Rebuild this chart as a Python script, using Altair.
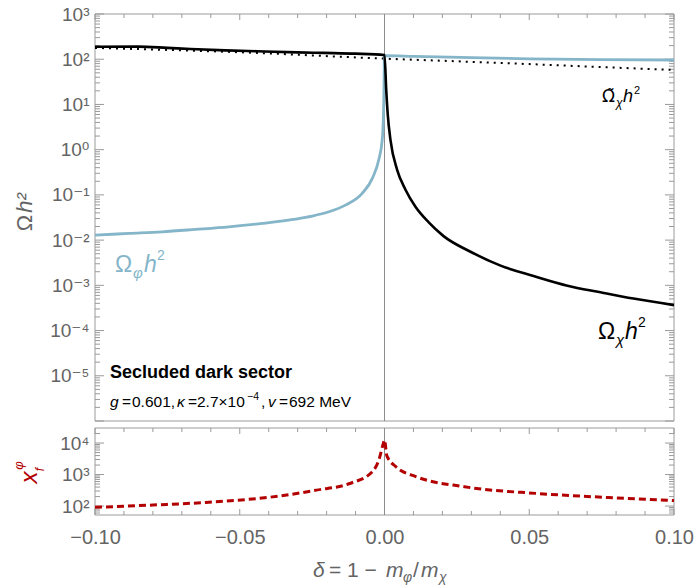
import altair as alt
import pandas as pd

FONT = "Liberation Sans, DejaVu Sans, sans-serif"
GRAY = "#646464"
FRAME = "#9a9a9a"
BLUE = "#84b5c9"
RED = "#b30000"

# ---- data ----
black_x = [-0.1, -0.085, -0.075, -0.067, -0.055, -0.044, -0.03, -0.021, -0.01, 0.0,
           0.0006, 0.00114, 0.00207, 0.00439, 0.00725, 0.0107, 0.0152, 0.0204, 0.0297,
           0.0401, 0.0515, 0.0632, 0.0746, 0.086, 0.1]
black_y = [188, 190, 178, 168, 157, 150, 142, 138, 133, 124,
           20.8, 5.8, 1.63, 0.354, 0.130, 0.0546, 0.0249, 0.01225, 0.00553,
           0.00273, 0.00161, 0.000984, 0.000703, 0.00051, 0.000365]

blue_x = [-0.1, -0.0883, -0.0768, -0.0653, -0.0538, -0.0422, -0.0307, -0.025, -0.0192,
          -0.0135, -0.0077, -0.0042, -0.002, -0.0008, -0.0006, -0.00024, 0.0,
          0.01, 0.03, 0.05, 0.075, 0.1]
blue_y = [0.0129, 0.01406, 0.01527, 0.01726, 0.01968, 0.02339, 0.02917, 0.034, 0.0423,
          0.0594, 0.108, 0.232, 0.589, 1.63, 2.33, 12.5, 120,
          116, 108, 102, 98, 96]

dot_x = [-0.1, -0.067, -0.044, -0.021, 0.0, 0.025, 0.05, 0.075, 0.1]
dot_y = [178, 155, 138, 118, 103, 90, 78, 67, 58]

red_x = [-0.1, -0.08, -0.0617, -0.036, -0.0235, -0.012, -0.0043, -0.0018, -0.0005,
         0.0, 0.0008, 0.004, 0.011, 0.0276, 0.053, 0.0786, 0.1]
red_y = [91, 108, 130, 210, 320, 520, 1200, 3200, 9000,
         12500, 4000, 1750, 850, 410, 250, 184, 150]

x_major = [-0.1, -0.05, 0.0, 0.05, 0.1]
x_minor = [round(-0.1 + 0.01 * i, 2) for i in range(21)]
x_minor = [v for v in x_minor if all(abs(v - m) > 1e-9 for m in x_major)]

top_major = [10.0 ** e for e in range(-6, 4)]
top_minor = [k * 10.0 ** e for e in range(-6, 3) for k in range(2, 10)]
top_labels = [10.0 ** e for e in range(-5, 4)]
bot_major = [100.0, 1000.0, 10000.0]
bot_minor = [k * 10.0 ** e for e in range(1, 5) for k in range(2, 10) if 52 < k * 10.0 ** e < 30000]

# ---- layout ----
W = 579
H_TOP = 407
B0 = 414
H = 501

SUP = {"-": "\u207b", "0": "\u2070", "1": "\u00b9", "2": "\u00b2", "3": "\u00b3",
       "4": "\u2074", "5": "\u2075", "6": "\u2076", "7": "\u2077", "8": "\u2078", "9": "\u2079"}


def sup_label(e):
    return "10" + "".join(SUP[c] for c in str(e))


def label_expr(exps):
    parts = [f"abs(log(datum.value)/LN10 - ({e})) < 0.01 ? '{sup_label(e)}' : " for e in exps]
    return "".join(parts) + "''"


xscale = alt.Scale(domain=[-0.1, 0.1], nice=False, zero=False)
xaxis = alt.Axis(values=x_major, format=".2f", ticks=False, domain=False, grid=False,
                 labelFontSize=20, labelColor=GRAY, labelFont=FONT, labelPadding=12,
                 labelFlush=False, labelOverlap=False, title=None)
ytop_scale = alt.Scale(type="log", domain=[1e-6, 1e3], range=[H_TOP, 0], nice=False)
ybot_scale = alt.Scale(type="log", domain=[52, 30000], range=[H, B0], nice=False)
ytop_axis = alt.Axis(values=top_labels, labelExpr=label_expr(range(-5, 4)), ticks=False,
                     domain=False, grid=False, labelFontSize=19, labelColor=GRAY,
                     labelFont=FONT, labelPadding=6, labelFlush=False, labelOverlap=False,
                     title=None, orient="left")
ybot_axis = alt.Axis(values=bot_major, labelExpr=label_expr(range(2, 5)), ticks=False,
                     domain=False, grid=False, labelFontSize=19, labelColor=GRAY,
                     labelFont=FONT, labelPadding=6, labelFlush=False, labelOverlap=False,
                     title=None, orient="left")


def X():
    return alt.X("d:Q", scale=xscale, axis=xaxis)


def Yt():
    return alt.Y("v:Q", scale=ytop_scale, axis=ytop_axis)


def Yb():
    return alt.Y("v:Q", scale=ybot_scale, axis=ybot_axis)


one = pd.DataFrame({"a": [0]})


def frame(y0, y1):
    return alt.Chart(one).mark_rect(fillOpacity=0, stroke=FRAME, strokeWidth=1).encode(
        x=alt.value(0), x2=alt.value(W), y=alt.value(y0), y2=alt.value(y1))


def xticks(vals, y0, y1):
    return alt.Chart(pd.DataFrame({"d": vals})).mark_rule(color=FRAME, strokeWidth=1).encode(
        x=X(), y=alt.value(y0), y2=alt.value(y1))


def yticks(vals, Yf, length):
    df = pd.DataFrame({"v": vals})
    left = alt.Chart(df).mark_rule(color=FRAME, strokeWidth=1).encode(
        y=Yf(), x=alt.value(0), x2=alt.value(length))
    right = alt.Chart(df).mark_rule(color=FRAME, strokeWidth=1).encode(
        y=Yf(), x=alt.value(W), x2=alt.value(W - length))
    return [left, right]


def txt(s, x, y, size, color="black", style="normal", weight="normal", angle=0,
        align="left", baseline="alphabetic", font=FONT):
    return alt.Chart(one).mark_text(text=s, fontSize=size, font=font, fontStyle=style,
                                    fontWeight=weight, color=color, align=align,
                                    baseline=baseline, angle=angle).encode(
        x=alt.value(x), y=alt.value(y))


zero = pd.DataFrame({"d": [0.0]})

top_layers = [
    frame(0, H_TOP),
    xticks(x_major, 0, 6), xticks(x_minor, 0, 4),
    *yticks(top_major, Yt, 9), *yticks(top_minor, Yt, 5),
    alt.Chart(zero).mark_rule(color="#8c8c8c", strokeWidth=1).encode(
        x=X(), y=alt.value(0), y2=alt.value(H_TOP)),
    alt.Chart(pd.DataFrame({"d": dot_x, "v": dot_y})).mark_line(
        color="black", strokeWidth=2, strokeDash=[2, 5], interpolate="monotone").encode(x=X(), y=Yt()),
    alt.Chart(pd.DataFrame({"d": blue_x, "v": blue_y})).mark_line(
        color=BLUE, strokeWidth=2.8, interpolate="monotone").encode(x=X(), y=Yt()),
    alt.Chart(pd.DataFrame({"d": black_x, "v": black_y})).mark_line(
        color="black", strokeWidth=2.6, interpolate="monotone").encode(x=X(), y=Yt()),
]
top = alt.layer(*top_layers)

bot_layers = [
    frame(B0, H),
    xticks(x_major, B0, B0 + 6), xticks(x_minor, B0, B0 + 4),
    xticks(x_major, H, H - 6), xticks(x_minor, H, H - 4),
    *yticks(bot_major, Yb, 9), *yticks(bot_minor, Yb, 5),
    alt.Chart(zero).mark_rule(color="#8c8c8c", strokeWidth=1).encode(
        x=X(), y=alt.value(B0), y2=alt.value(H)),
    alt.Chart(pd.DataFrame({"d": red_x, "v": red_y})).mark_line(
        color=RED, strokeWidth=3, strokeDash=[7, 4], interpolate="monotone").encode(x=X(), y=Yb()),
]
bot = alt.layer(*bot_layers)

texts = [
    # y axis titles
    txt("Ω", -70, 209, 22, GRAY, angle=270, align="center", baseline="middle"),
    txt("h²", -70, 189, 22, GRAY, style="italic", angle=270, align="center", baseline="middle"),
    txt("x", -58, 463.5, 24, RED, style="italic", angle=270, align="center"),
    txt("f", -51, 455.5, 12, RED, style="italic", angle=270, align="center"),
    txt("φ", -72, 451.5, 13, RED, style="italic", angle=270, align="center"),
    # x axis title
    txt("δ", 218, 563, 21, GRAY, style="italic"),
    txt("= 1 −", 234, 563, 21, GRAY),
    txt("m", 291, 563, 21, GRAY, style="italic"),
    txt("φ", 308, 568, 14, GRAY, style="italic"),
    txt("/", 318, 563, 21, GRAY),
    txt("m", 326, 563, 21, GRAY, style="italic"),
    txt("χ", 344, 568, 14, GRAY, style="italic"),
    # curve labels
    txt("Ω", 503, 325, 23),
    txt("χ", 521, 331, 15, style="italic"),
    txt("h", 530, 325, 23, style="italic"),
    txt("2", 543, 313, 14),
    txt("Ω\u0303", 507, 88, 17, font="DejaVu Sans"),
    txt("χ", 521, 93, 12, style="italic"),
    txt("h", 528, 88, 18, style="italic"),
    txt("2", 539, 80, 11),
    txt("Ω", 20, 258, 23, BLUE),
    txt("φ", 38, 264, 15, BLUE, style="italic"),
    txt("h", 49, 258, 23, BLUE, style="italic"),
    txt("2", 62, 246, 14, BLUE),
    # annotation
    txt("Secluded dark sector", 15, 364, 18, weight="bold"),
    txt("g", 15, 393, 15.5, style="italic"),
    txt("=", 27, 393, 15.5),
    txt("0.601,", 37, 393, 15.5),
    txt("κ", 82, 393, 15.5, style="italic"),
    txt("=", 93, 393, 15.5),
    txt("2.7×10", 102, 393, 15.5),
    txt("−4", 152, 386, 10.5),
    txt(",", 166, 393, 15.5),
    txt("v", 173, 393, 15.5, style="italic"),
    txt("=", 184, 393, 15.5),
    txt("692 MeV", 194, 393, 15.5),
]

chart = alt.layer(top, bot, *texts).resolve_scale(y="independent").properties(
    width=W, height=H,
    padding={"left": 95, "top": 14, "right": 24, "bottom": 71},
    autosize=alt.AutoSizeParams(type="none"),
    background="white",
).configure_view(strokeWidth=0)

chart.save("out.html", embed_options={"renderer": "svg", "actions": False})
